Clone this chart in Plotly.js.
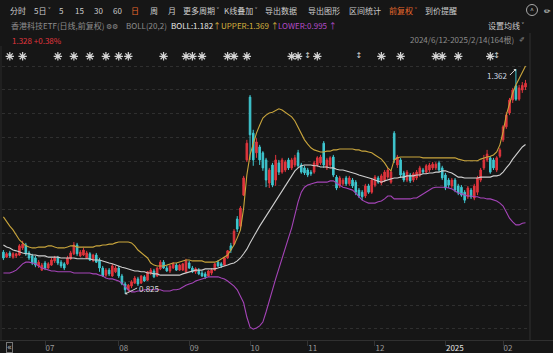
<!DOCTYPE html>
<html><head><meta charset="utf-8">
<script src="https://cdn.plot.ly/plotly-3.0.1.min.js"></script>
<style>html,body{margin:0;padding:0;background:#161616;}#chart{width:553px;height:353px;}</style>
</head><body><div id="chart"></div>
<script>
// ---- data (daily candles, index 0 = 2024-06-12 ... 163 = 2025-02-14) ----
const open = [0.925,0.913,0.923,0.913,0.916,0.918,0.935,0.942,0.923,0.916,0.911,0.892,0.882,0.899,0.887,0.894,0.904,0.911,0.901,0.897,0.897,0.909,0.921,0.942,0.916,0.918,0.911,0.921,0.906,0.918,0.906,0.887,0.870,0.882,0.868,0.878,0.887,0.868,0.849,0.835,0.844,0.851,0.861,0.851,0.866,0.858,0.875,0.880,0.868,0.885,0.901,0.887,0.880,0.887,0.894,0.882,0.882,0.878,0.899,0.887,0.878,0.882,0.875,0.873,0.868,0.875,0.882,0.901,0.897,0.894,0.911,0.940,0.944,1.004,0.987,1.061,1.145,1.295,1.209,1.162,1.176,1.162,1.145,1.090,1.133,1.097,1.138,1.116,1.121,1.145,1.126,1.133,1.162,1.133,1.126,1.121,1.116,1.116,1.133,1.138,1.185,1.126,1.133,1.152,1.104,1.083,1.088,1.102,1.088,1.097,1.092,1.073,1.068,1.059,1.083,1.068,1.085,1.102,1.090,1.097,1.104,1.092,1.209,1.133,1.145,1.114,1.097,1.109,1.097,1.102,1.109,1.121,1.116,1.121,1.126,1.126,1.138,1.126,1.109,1.097,1.083,1.097,1.083,1.080,1.068,1.057,1.073,1.054,1.068,1.097,1.126,1.145,1.150,1.145,1.121,1.154,1.193,1.224,1.257,1.288,1.322,1.290,1.312,1.319];
const close = [0.911,0.921,0.916,0.921,0.921,0.940,0.944,0.921,0.911,0.899,0.894,0.901,0.894,0.887,0.897,0.906,0.911,0.899,0.892,0.887,0.911,0.923,0.942,0.921,0.925,0.930,0.923,0.906,0.918,0.901,0.887,0.868,0.882,0.873,0.892,0.887,0.868,0.849,0.835,0.846,0.854,0.863,0.849,0.868,0.856,0.878,0.882,0.866,0.887,0.901,0.887,0.880,0.892,0.897,0.882,0.894,0.897,0.904,0.887,0.878,0.885,0.873,0.868,0.866,0.880,0.882,0.897,0.892,0.892,0.911,0.928,0.930,0.975,0.980,1.030,1.102,1.185,1.205,1.145,1.188,1.145,1.126,1.097,1.121,1.085,1.145,1.116,1.145,1.140,1.126,1.145,1.150,1.131,1.116,1.114,1.109,1.112,1.138,1.150,1.152,1.133,1.145,1.150,1.109,1.078,1.102,1.097,1.088,1.102,1.083,1.068,1.059,1.057,1.083,1.068,1.097,1.104,1.092,1.107,1.116,1.121,1.116,1.145,1.152,1.109,1.097,1.116,1.095,1.112,1.116,1.126,1.116,1.131,1.133,1.135,1.135,1.121,1.102,1.078,1.085,1.097,1.073,1.066,1.061,1.049,1.078,1.057,1.083,1.102,1.121,1.145,1.159,1.116,1.126,1.150,1.169,1.224,1.252,1.288,1.312,1.290,1.317,1.323,1.328];
const high = [0.930,0.925,0.928,0.925,0.923,0.944,0.952,0.947,0.928,0.921,0.916,0.906,0.899,0.904,0.901,0.911,0.916,0.916,0.906,0.901,0.916,0.928,0.949,0.947,0.930,0.935,0.928,0.925,0.921,0.923,0.911,0.892,0.887,0.887,0.897,0.892,0.892,0.873,0.854,0.849,0.858,0.868,0.866,0.870,0.870,0.880,0.887,0.885,0.889,0.906,0.906,0.892,0.894,0.901,0.899,0.897,0.899,0.909,0.904,0.892,0.889,0.887,0.880,0.878,0.882,0.887,0.899,0.906,0.901,0.913,0.930,0.947,0.980,1.011,1.035,1.107,1.193,1.300,1.217,1.197,1.181,1.166,1.150,1.126,1.138,1.157,1.145,1.150,1.145,1.150,1.150,1.157,1.169,1.138,1.131,1.126,1.121,1.143,1.154,1.157,1.190,1.150,1.154,1.157,1.109,1.107,1.102,1.107,1.107,1.102,1.097,1.078,1.073,1.088,1.088,1.102,1.109,1.107,1.112,1.121,1.126,1.121,1.214,1.157,1.150,1.119,1.121,1.114,1.116,1.121,1.131,1.126,1.135,1.138,1.140,1.140,1.143,1.131,1.114,1.102,1.102,1.102,1.088,1.085,1.073,1.083,1.078,1.088,1.107,1.126,1.157,1.169,1.154,1.150,1.154,1.174,1.228,1.259,1.293,1.317,1.362,1.324,1.331,1.336];
const low = [0.906,0.911,0.911,0.909,0.911,0.916,0.930,0.916,0.906,0.894,0.889,0.887,0.880,0.882,0.885,0.892,0.899,0.894,0.887,0.882,0.894,0.906,0.918,0.916,0.913,0.916,0.909,0.904,0.901,0.899,0.878,0.866,0.866,0.868,0.866,0.875,0.863,0.846,0.825,0.830,0.839,0.849,0.844,0.849,0.854,0.856,0.870,0.863,0.866,0.882,0.885,0.878,0.875,0.885,0.880,0.880,0.880,0.875,0.885,0.875,0.873,0.870,0.866,0.861,0.866,0.870,0.880,0.889,0.887,0.892,0.909,0.923,0.942,0.973,0.983,1.059,1.140,1.145,1.131,1.150,1.133,1.119,1.080,1.078,1.080,1.083,1.109,1.112,1.116,1.121,1.121,1.128,1.126,1.112,1.109,1.104,1.107,1.112,1.128,1.133,1.126,1.121,1.128,1.104,1.073,1.078,1.083,1.083,1.083,1.078,1.061,1.054,1.049,1.054,1.064,1.064,1.080,1.088,1.085,1.092,1.100,1.088,1.138,1.126,1.102,1.092,1.092,1.090,1.092,1.097,1.104,1.112,1.112,1.116,1.121,1.121,1.116,1.097,1.073,1.078,1.078,1.068,1.061,1.057,1.042,1.052,1.052,1.049,1.061,1.092,1.121,1.140,1.112,1.121,1.116,1.150,1.188,1.219,1.252,1.281,1.286,1.286,1.305,1.312];
const bollMid = [0.942,0.937,0.935,0.930,0.928,0.925,0.923,0.921,0.921,0.918,0.918,0.916,0.916,0.916,0.913,0.913,0.913,0.913,0.911,0.911,0.911,0.911,0.911,0.909,0.909,0.909,0.909,0.909,0.906,0.906,0.906,0.904,0.901,0.899,0.897,0.894,0.892,0.889,0.887,0.885,0.882,0.880,0.880,0.878,0.878,0.875,0.875,0.873,0.873,0.870,0.870,0.870,0.870,0.870,0.870,0.870,0.873,0.875,0.878,0.880,0.882,0.882,0.882,0.885,0.885,0.885,0.885,0.887,0.889,0.892,0.894,0.897,0.899,0.904,0.911,0.921,0.932,0.947,0.961,0.975,0.987,0.999,1.011,1.023,1.035,1.047,1.059,1.071,1.083,1.095,1.107,1.119,1.126,1.131,1.133,1.133,1.133,1.131,1.131,1.128,1.128,1.128,1.126,1.126,1.123,1.121,1.121,1.119,1.116,1.114,1.112,1.109,1.107,1.104,1.102,1.100,1.097,1.095,1.092,1.095,1.097,1.100,1.102,1.102,1.104,1.104,1.107,1.107,1.107,1.109,1.109,1.112,1.112,1.114,1.114,1.116,1.116,1.119,1.119,1.116,1.114,1.109,1.104,1.104,1.102,1.102,1.102,1.102,1.102,1.104,1.104,1.104,1.104,1.107,1.107,1.109,1.116,1.126,1.135,1.147,1.157,1.166,1.176,1.182];
const bollUpper = [1.009,0.997,0.987,0.978,0.966,0.954,0.947,0.940,0.937,0.935,0.935,0.937,0.937,0.937,0.940,0.940,0.937,0.935,0.935,0.935,0.937,0.940,0.940,0.937,0.937,0.937,0.937,0.937,0.937,0.940,0.940,0.942,0.942,0.944,0.944,0.947,0.949,0.949,0.949,0.949,0.947,0.940,0.930,0.923,0.916,0.911,0.899,0.894,0.892,0.892,0.892,0.894,0.897,0.899,0.899,0.901,0.904,0.906,0.906,0.904,0.904,0.904,0.904,0.901,0.901,0.901,0.901,0.904,0.909,0.913,0.918,0.930,0.942,0.959,0.978,1.030,1.109,1.157,1.185,1.209,1.228,1.245,1.252,1.257,1.259,1.264,1.267,1.264,1.259,1.255,1.248,1.238,1.224,1.207,1.193,1.183,1.174,1.169,1.166,1.164,1.164,1.166,1.166,1.169,1.169,1.171,1.171,1.171,1.171,1.171,1.169,1.169,1.166,1.166,1.164,1.162,1.157,1.152,1.147,1.138,1.126,1.119,1.145,1.150,1.152,1.152,1.152,1.152,1.152,1.152,1.152,1.150,1.150,1.150,1.150,1.150,1.150,1.150,1.150,1.150,1.150,1.150,1.147,1.145,1.143,1.143,1.143,1.143,1.143,1.147,1.150,1.152,1.154,1.157,1.164,1.181,1.212,1.252,1.279,1.305,1.324,1.338,1.353,1.369];
const bollLower = [0.875,0.875,0.875,0.878,0.882,0.889,0.897,0.901,0.901,0.899,0.897,0.892,0.887,0.885,0.882,0.880,0.880,0.878,0.878,0.878,0.878,0.878,0.875,0.875,0.875,0.875,0.875,0.875,0.873,0.873,0.870,0.868,0.863,0.861,0.861,0.858,0.856,0.851,0.842,0.835,0.830,0.830,0.832,0.832,0.835,0.835,0.835,0.835,0.835,0.835,0.832,0.832,0.832,0.835,0.835,0.837,0.842,0.846,0.849,0.851,0.856,0.858,0.861,0.863,0.866,0.866,0.866,0.866,0.863,0.861,0.856,0.851,0.844,0.835,0.820,0.804,0.770,0.746,0.741,0.744,0.749,0.758,0.782,0.811,0.835,0.861,0.887,0.911,0.935,0.959,0.983,1.014,1.045,1.068,1.080,1.085,1.088,1.090,1.092,1.092,1.092,1.092,1.095,1.095,1.090,1.085,1.080,1.078,1.076,1.073,1.066,1.057,1.049,1.045,1.042,1.042,1.042,1.045,1.047,1.052,1.059,1.059,1.052,1.052,1.052,1.052,1.052,1.052,1.054,1.054,1.059,1.064,1.068,1.073,1.078,1.080,1.080,1.080,1.080,1.078,1.076,1.071,1.066,1.064,1.061,1.059,1.059,1.057,1.057,1.054,1.054,1.052,1.052,1.049,1.047,1.042,1.035,1.021,1.006,0.997,0.990,0.990,0.994,0.995];
const monthTickIdx = [13,36,58,77,95,116,138,156];
const monthTickText = ['07','08','09','10','11','12','2025','02'];
const starEventIdx = [2,6,17,22,27,32,36,39,50,57,59,62,70,72,76,90,92,98,118,124,135,137,142,152];
const markEventIdx = [95,111,154];

// ---- layout geometry ----
const W=553,H=353,ML=2,MR=23,MT=46,MB=13,PW=W-ML-MR,PH=H-MT-MB;
const px=x=>(x-ML)/PW, py=y=>(H-MB-y)/PH;
const idx = open.map((_,i)=>i);
const RED='#e0353d', CYAN='#3fc7d0';
const FONT='"Noto Sans CJK SC", "Noto Sans", sans-serif';
const STAR='#d4d4d4';

const traces = [
  {type:'candlestick', x:idx, open:open, high:high, low:low, close:close,
   increasing:{line:{color:RED,width:1},fillcolor:RED},
   decreasing:{line:{color:CYAN,width:1},fillcolor:CYAN},
   whiskerwidth:0, hoverinfo:'skip'},
  {type:'scatter', mode:'lines', x:idx, y:bollUpper, line:{color:'#c9a53c',width:1.1}, hoverinfo:'skip'},
  {type:'scatter', mode:'lines', x:idx, y:bollMid, line:{color:'#cfcfcf',width:1.1}, hoverinfo:'skip'},
  {type:'scatter', mode:'lines', x:idx, y:bollLower, line:{color:'#a544b8',width:1.1}, hoverinfo:'skip'},
  {type:'scatter', mode:'markers', x:starEventIdx, y:starEventIdx.map(()=>0.965), yaxis:'y2',
   marker:{symbol:'asterisk-open', size:7, color:STAR, line:{color:STAR, width:1.2}}, hoverinfo:'skip'},
  {type:'scatter', mode:'markers', x:starEventIdx, y:starEventIdx.map(()=>0.965), yaxis:'y2',
   marker:{symbol:'circle', size:3.5, color:STAR, line:{width:0}}, hoverinfo:'skip'},
  {type:'scatter', mode:'text', x:markEventIdx, y:markEventIdx.map(()=>0.965), yaxis:'y2',
   text:markEventIdx.map(()=>'↕'), textfont:{family:'DejaVu Sans', size:8, color:STAR}, hoverinfo:'skip'}
];

// min / max labels
let minI=0,maxI=0;
low.forEach((v,i)=>{ if(v<low[minI]) minI=i; });
high.forEach((v,i)=>{ if(v>high[maxI]) maxI=i; });

const ann = [];
function txt(x,y,t,color,size,anchor){
  ann.push({xref:'paper',yref:'paper',x:px(x),y:py(y),text:t,showarrow:false,
    xanchor:anchor||'left',yanchor:'middle',font:{family:FONT,size:size||8,color:color}});
}
const G='#cdcdcd', DIM='#8e8e8e', OR='#e8692c';
// row 1
[['分时',8],['5日 ˅',32],['5',57],['15',73],['30',92],['60',111],['周',148],['月',166],
 ['更多周期 ˅',181],['K线叠加 ˅',222],['导出数据',263],['导出图形',306],['区间统计',347],['到价提醒',423]]
 .forEach(([t,x])=>txt(x,10.5,t,G,8));
txt(129,10.5,'日',OR,8);
txt(387,10.5,'前复权 ˅',OR,8);
txt(528,10.5,'^','#bbbbbb',7);
txt(542,10.5,'✏','#dddddd',8);
// row 2
txt(9,25.5,'香港科技ETF(日线,前复权)',DIM,8);
txt(104,25.5,'⚙⚙',DIM,7);
txt(124,25.5,'BOLL(20,2)',DIM,8);
txt(169,25.5,'BOLL:1.182',  '#e6e6e6',8);
txt(211,25.5,'↑UPPER:1.369 ↑','#d6b23e',8);
txt(276,25.5,'LOWER:0.995 ↑','#b54cc8',8);
txt(486,25.5,'设置均线 ˅',G,8);
// row 3
txt(10,40.5,'1.328 +0.38%','#e0353d',8);
txt(408,39,'2024/6/12-2025/2/14(164根)',DIM,8);
txt(517,39,'✐','#9a9a9a',7);
// bottom-left button
ann.push({xref:'paper',yref:'paper',x:px(9.5),y:py(347),text:'«',showarrow:false,xanchor:'center',yanchor:'middle',
  font:{family:'DejaVu Sans',size:8,color:'#bbbbbb'},bordercolor:'#777',borderwidth:1,borderpad:0});
// extreme value labels
ann.push({x:minI,y:low[minI],xref:'x',yref:'y',text:low[minI].toFixed(3),showarrow:true,ax:12,ay:-6,
  xanchor:'left',yanchor:'middle',arrowhead:1,arrowsize:0.6,arrowwidth:1,arrowcolor:'#d8d8d8',standoff:0,
  font:{family:FONT,size:8,color:'#dcdcdc'}});
ann.push({x:maxI,y:high[maxI],xref:'x',yref:'y',text:high[maxI].toFixed(3),showarrow:true,ax:-6,ay:6,
  xanchor:'right',yanchor:'middle',arrowhead:1,arrowsize:0.6,arrowwidth:1,arrowcolor:'#d8d8d8',standoff:0,
  font:{family:FONT,size:8,color:'#cfd8e2'}});

const shapes = [
  {type:'line',xref:'paper',yref:'paper',x0:px(530),x1:px(530),y0:py(33),y1:py(340),line:{color:'#303030',width:1}},
  {type:'line',xref:'paper',yref:'paper',x0:px(0),x1:px(553),y0:py(340.5),y1:py(340.5),line:{color:'#303030',width:1}},
  {type:'line',xref:'paper',yref:'paper',x0:px(1),x1:px(1),y0:py(46),y1:py(340),line:{color:'#2a2a2a',width:1}},
  {type:'circle',xref:'paper',yref:'paper',x0:px(526.5),x1:px(537.5),y0:py(4.5),y1:py(15.5),line:{color:'#aaaaaa',width:1}}
];

const layout = {
  width:W,height:H,margin:{l:ML,r:MR,t:MT,b:MB,pad:0},
  paper_bgcolor:'#161616',plot_bgcolor:'#161616',showlegend:false,hovermode:false,
  xaxis:{range:[-0.44,164.4],tickmode:'array',tickvals:monthTickIdx,
    ticktext:monthTickText.map(t=>t==='2025'?'<span style="color:#e6e6e6">2025</span>':t),
    ticks:'outside',ticklen:5,tickcolor:'#333333',ticklabelposition:'outside right',
    tickfont:{family:FONT,size:8,color:'#9a9a9a'},showgrid:false,zeroline:false,showline:false,
    rangeslider:{visible:false},fixedrange:true},
  yaxis:{range:[0.7152,1.4170],showticklabels:false,ticks:'',showgrid:true,gridcolor:'#2f2f2f',griddash:'dot',gridwidth:1,
    tick0:0.7415,dtick:0.05707,zeroline:false,showline:false,fixedrange:true},
  yaxis2:{range:[0,1],overlaying:'y',visible:false,fixedrange:true},
  annotations:ann, shapes:shapes
};
Plotly.newPlot('chart',traces,layout,{staticPlot:true,displayModeBar:false});
</script></body></html>
